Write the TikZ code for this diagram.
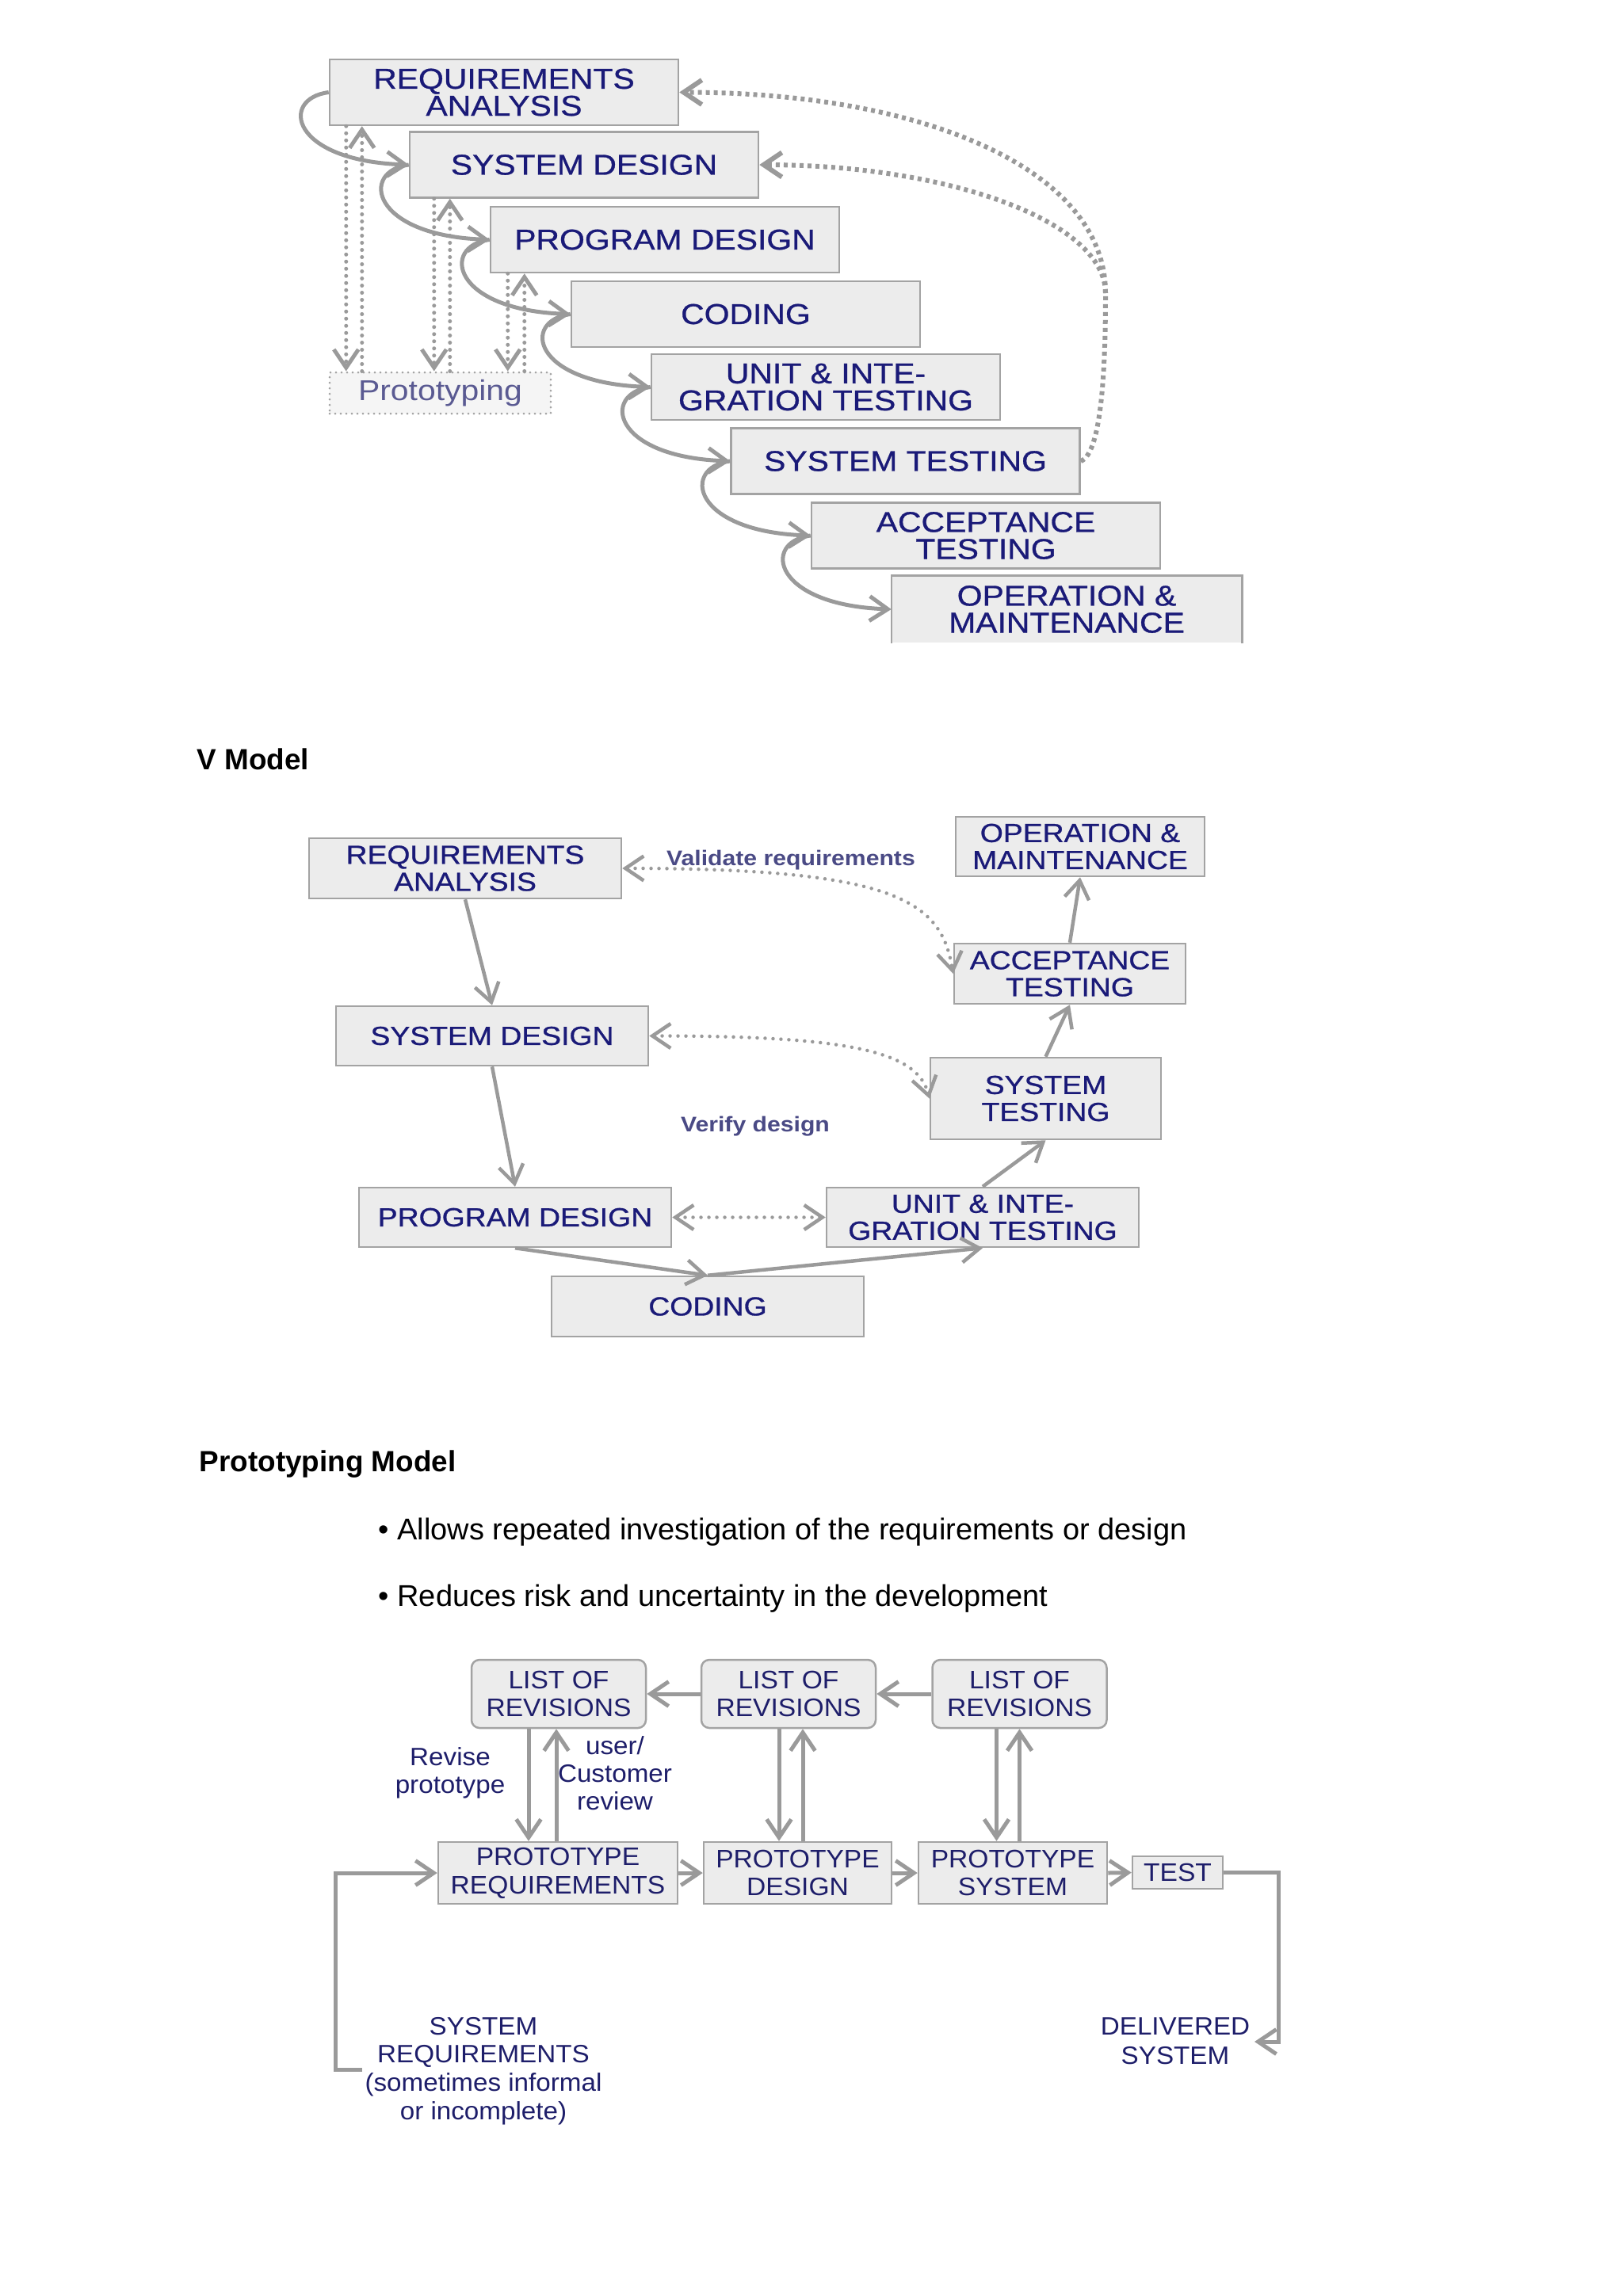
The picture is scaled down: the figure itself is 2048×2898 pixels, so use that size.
\documentclass[tikz,border=0pt]{standalone}
\usepackage{fontspec}
\setmainfont{Liberation Sans}
\newfontfamily\wfont[FakeStretch=1.13,FakeBold=0.8]{Liberation Sans}
\newfontfamily\wlight[FakeStretch=1.13]{Liberation Sans}
\newfontfamily\pfont[FakeStretch=1.05]{Liberation Sans}
\usetikzlibrary{arrows.meta,calc}
\definecolor{boxgray}{HTML}{ECECEC}
\definecolor{edgegray}{HTML}{A3A3A3}
\definecolor{arrgray}{HTML}{9A9A9A}
\definecolor{navy}{HTML}{1A1A78}
\definecolor{pnavy}{HTML}{1E1E6A}
\definecolor{slate}{HTML}{4A4A85}
\definecolor{protoblue}{HTML}{5A5A92}
\begin{document}
\begin{tikzpicture}[x=0.1mm,y=-0.1mm,
  >={Straight Barb[length=2.3mm,width=3.1mm]},
  wbox/.style={draw=edgegray, line width=0.25mm, fill=boxgray, minimum width=44mm, minimum height=8.3mm, inner sep=0pt, align=center, text=navy, font=\wfont\fontsize{10.3}{9.7}\selectfont},
  vbox/.style={draw=edgegray, line width=0.25mm, fill=boxgray, inner sep=0pt, align=center, text=navy, font=\wfont\fontsize{9.4}{9.7}\selectfont},
  pbox/.style={draw=edgegray, line width=0.25mm, fill=boxgray, inner sep=0pt, align=center, text=pnavy, font=\pfont\fontsize{9.1}{10.2}\selectfont},
  lbox/.style={pbox, rounded corners=1mm, minimum width=22mm, minimum height=8.6mm},
  plabel/.style={inner sep=0pt, align=center, text=pnavy, font=\pfont\fontsize{9}{10}\selectfont},
  solidarr/.style={draw=arrgray, line width=0.5mm, ->},
  vsolid/.style={draw=arrgray, line width=0.45mm, ->},
  psolid/.style={draw=arrgray, line width=0.5mm, ->},
  dotarr/.style={draw=arrgray, line width=0.5mm, line cap=round, dash pattern=on 0pt off 0.9mm, ->},
  vdot/.style={draw=arrgray, line width=0.45mm, line cap=round, dash pattern=on 0pt off 1mm, <->},
  dashline/.style={draw=arrgray, line width=0.6mm, dash pattern=on 0.5mm off 0.5mm},
  dasharr/.style={dashline, ->},
  titletext/.style={anchor=base west, inner sep=0pt, font=\bfseries\fontsize{10.5}{12}\selectfont},
  bullettext/.style={anchor=base west, inner sep=0pt, font=\fontsize{10.8}{13}\selectfont}
]
\fill[white] (0,0) rectangle (2048,2898);
\useasboundingbox (0,0) rectangle (2048,2898);

% ---------------- Waterfall ----------------
\node[wbox] (w1) at (636,116.5) {REQUIREMENTS\\ANALYSIS};
\node[wbox] (w2) at (737,208) {SYSTEM DESIGN};
\node[wbox] (w3) at (839,302.5) {PROGRAM DESIGN};
\node[wbox] (w4) at (941,396.5) {CODING};
\node[wbox] (w5) at (1042,488.5) {UNIT \& INTE-\\GRATION TESTING};
\node[wbox] (w6) at (1142.5,582) {SYSTEM TESTING};
\node[wbox] (w7) at (1244,676) {ACCEPTANCE\\TESTING};
\node[wbox, draw=none] (w8) at (1346,769) {OPERATION \&\\MAINTENANCE};
\draw[edgegray, line width=0.25mm] (w8.south west) |- (w8.north east) -- (w8.south east);

\node[draw=edgegray, line width=0.3mm, line cap=round, dash pattern=on 0pt off 0.7mm, fill=white!96!black, minimum width=27.9mm, minimum height=5.2mm, inner sep=0pt, text=protoblue, font=\wlight\fontsize{10.3}{11}\selectfont] (proto) at (555.5,496) {Prototyping};

\foreach \a/\b in {w1/w2,w2/w3,w3/w4,w4/w5,w5/w6,w6/w7,w7/w8}
  \draw[solidarr] (\a.west) .. controls +(-62,8) and +(-150,-5) .. (\b.west);

\coordinate (a1) at ($(w1.south west)+(22,0)$);
\coordinate (b1) at ($(w1.south west)+(42,0)$);
\coordinate (a2) at ($(w2.south west)+(32,0)$);
\coordinate (b2) at ($(w2.south west)+(52,0)$);
\coordinate (a3) at ($(w3.south west)+(23,0)$);
\coordinate (b3) at ($(w3.south west)+(44,0)$);
\foreach \i in {1,2,3}{
  \draw[dotarr] (a\i) -- (a\i |- proto.north);
  \draw[dotarr] (b\i |- proto.north) -- (b\i);
}

\coordinate (split) at (1395,370);
\draw[dashline] (w6.east) .. controls +(28,-10) and +(0,80) .. (split);
\draw[dasharr] (split) .. controls +(0,-160) and +(300,0) .. (w1.east);
\draw[dasharr] (split) .. controls +(0,-90) and +(240,0) .. (w2.east);

% ---------------- V Model ----------------
\node[titletext] (vtitle) at (248,971) {V Model};

\node[vbox, minimum width=39.4mm, minimum height=7.6mm] (v1) at (587,1096) {REQUIREMENTS\\ANALYSIS};
\node[vbox, minimum width=39.4mm, minimum height=7.5mm] (v2) at (621,1307.5) {SYSTEM DESIGN};
\node[vbox, minimum width=39.4mm, minimum height=7.5mm] (v3) at (650,1536.5) {PROGRAM DESIGN};
\node[vbox, minimum width=39.4mm, minimum height=7.6mm] (v4) at (893,1649) {CODING};
\node[vbox, minimum width=39.4mm, minimum height=7.5mm] (v5) at (1240,1536.5) {UNIT \& INTE-\\GRATION TESTING};
\node[vbox, minimum width=29.1mm, minimum height=10.3mm] (v6) at (1319.5,1386.5) {SYSTEM\\TESTING};
\node[vbox, minimum width=29.2mm, minimum height=7.6mm] (v7) at (1350,1229) {ACCEPTANCE\\TESTING};
\node[vbox, minimum width=31.4mm, minimum height=7.5mm] (v8) at (1363,1068.5) {OPERATION \&\\MAINTENANCE};

\draw[vsolid] (v1.south) -- (v2.north);
\draw[vsolid] (v2.south) -- (v3.north);
\draw[vsolid] (v3.south) -- (v4.north);
\draw[vsolid] (v4.north) -- (v5.south);
\draw[vsolid] (v5.north) -- (v6.south);
\draw[vsolid] (v6.north) -- (v7.south);
\draw[vsolid] (v7.north) -- (v8.south);

\draw[vdot] (v1.east) .. controls +(350,0) and +(-15,-90) .. (v7.west);
\draw[vdot] (v2.east) .. controls +(250,0) and +(-15,-60) .. (v6.west);
\draw[vdot] (v3.east) -- (v5.west);

\node[anchor=base, inner sep=0pt, text=slate, font=\wlight\bfseries\fontsize{7.6}{9}\selectfont] (lval) at (998,1092) {Validate requirements};
\node[anchor=base, inner sep=0pt, text=slate, font=\wlight\bfseries\fontsize{7.6}{9}\selectfont] (lver) at (953,1428) {Verify design};

% ---------------- Prototyping Model ----------------
\node[titletext] (ptitle) at (251,1857) {Prototyping Model};
\node[bullettext] (bul1) at (477,1943) {• Allows repeated investigation of the requirements or design};
\node[bullettext] (bul2) at (477,2027) {• Reduces risk and uncertainty in the development};

\node[lbox] (l1) at (705,2138) {LIST OF\\REVISIONS};
\node[lbox] (l2) at (995,2138) {LIST OF\\REVISIONS};
\node[lbox] (l3) at (1286.5,2138) {LIST OF\\REVISIONS};
\node[pbox, minimum width=30.2mm, minimum height=7.8mm] (pr) at (704,2364) {PROTOTYPE\\REQUIREMENTS};
\node[pbox, minimum width=23.7mm, minimum height=7.8mm] (pd) at (1006.5,2364) {PROTOTYPE\\DESIGN};
\node[pbox, minimum width=23.8mm, minimum height=7.8mm] (ps) at (1278,2364) {PROTOTYPE\\SYSTEM};
\node[pbox, minimum width=11.4mm, minimum height=4.1mm] (test) at (1486,2363.5) {TEST};

\draw[psolid] (l2.west) -- (l1.east);
\draw[psolid] (l3.west) -- (l2.east);

\coordinate (d1) at ($(l1.south)+(-38,0)$);
\coordinate (u1) at ($(l1.south)+(-3,0)$);
\coordinate (d2) at ($(l2.south)+(-12,0)$);
\coordinate (u2) at ($(l2.south)+(18,0)$);
\coordinate (d3) at ($(l3.south)+(-29,0)$);
\coordinate (u3) at ($(l3.south)+(0,0)$);
\draw[psolid] (d1) -- (d1 |- pr.north);
\draw[psolid] (u1 |- pr.north) -- (u1);
\draw[psolid] (d2) -- (d2 |- pd.north);
\draw[psolid] (u2 |- pd.north) -- (u2);
\draw[psolid] (d3) -- (d3 |- ps.north);
\draw[psolid] (u3 |- ps.north) -- (u3);

\draw[psolid] (pr.east) -- (pd.west);
\draw[psolid] (pd.east) -- (ps.west);
\draw[psolid] (ps.east) -- (test.west);

\coordinate (dcorner) at (1613,2577);
\coordinate (dtip) at (1583,2577);
\draw[psolid] (test.east) -| (dcorner) -- (dtip);

\coordinate (sin) at (457,2612);
\coordinate (scorner) at (423,2612);
\draw[psolid] (sin) -- (scorner) |- (pr.west);

\node[plabel] (rev) at (568,2238) {Revise\\prototype};
\node[plabel] (ucr) at (776,2238) {user/\\Customer\\review};
\node[plabel, font=\pfont\fontsize{9}{10.2}\selectfont] (sreq) at (610,2614) {SYSTEM\\REQUIREMENTS\\(sometimes informal\\or incomplete)};
\node[plabel, font=\pfont\fontsize{9}{10.4}\selectfont] (dsys) at (1483,2576) {DELIVERED\\SYSTEM};
\end{tikzpicture}
\end{document}
